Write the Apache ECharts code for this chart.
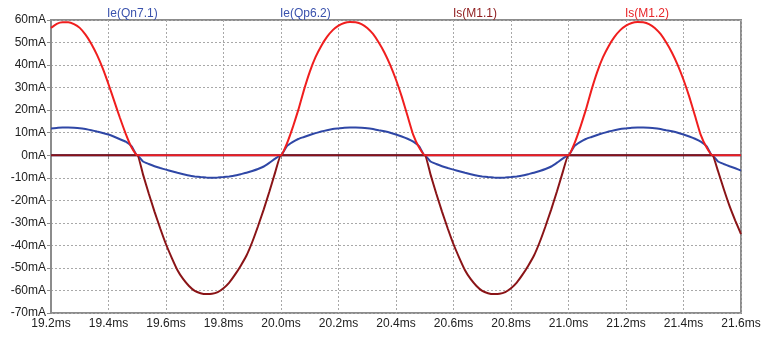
<!DOCTYPE html>
<html>
<head>
<meta charset="utf-8">
<script src="https://cdn.jsdelivr.net/npm/echarts@6/dist/echarts.min.js"></script>
<style>html,body{margin:0;padding:0;background:#fff;}#c{width:765px;height:344px;}</style>
</head>
<body>
<div id="c"></div>
<script>
// time samples (ms)
var timeMs = [
19.20,19.22,19.24,19.26,19.28,19.30,19.32,19.34,19.36,19.38,
19.40,19.42,19.44,19.46,19.48,19.50,19.52,19.54,19.56,19.58,
19.60,19.62,19.64,19.66,19.68,19.70,19.72,19.74,19.76,19.78,
19.80,19.82,19.84,19.86,19.88,19.90,19.92,19.94,19.96,19.98,
20.00,20.02,20.04,20.06,20.08,20.10,20.12,20.14,20.16,20.18,
20.20,20.22,20.24,20.26,20.28,20.30,20.32,20.34,20.36,20.38,
20.40,20.42,20.44,20.46,20.48,20.50,20.52,20.54,20.56,20.58,
20.60,20.62,20.64,20.66,20.68,20.70,20.72,20.74,20.76,20.78,
20.80,20.82,20.84,20.86,20.88,20.90,20.92,20.94,20.96,20.98,
21.00,21.02,21.04,21.06,21.08,21.10,21.12,21.14,21.16,21.18,
21.20,21.22,21.24,21.26,21.28,21.30,21.32,21.34,21.36,21.38,
21.40,21.42,21.44,21.46,21.48,21.50,21.52,21.54,21.56,21.58,
21.60
];

// Ie(Qn7.1) in mA
var ieQn71 = [
0,0,0,0,0,0,0,0,0,0,
0,0,0,0,0,0,-2.8,-3.9,-4.9,-5.7,
-6.4,-7.1,-7.8,-8.4,-9,-9.4,-9.7,-9.9,-10,-9.9,
-9.7,-9.4,-9,-8.4,-7.8,-7,-6.1,-5,-3.3,-1.5,
0,0,0,0,0,0,0,0,0,0,
0,0,0,0,0,0,0,0,0,0,
0,0,0,0,0,0,-2.8,-3.9,-4.9,-5.7,
-6.4,-7.1,-7.8,-8.4,-9,-9.4,-9.7,-9.9,-10,-9.9,
-9.7,-9.4,-9,-8.4,-7.8,-7,-6.1,-5,-3.3,-1.5,
0,0,0,0,0,0,0,0,0,0,
0,0,0,0,0,0,0,0,0,0,
0,0,0,0,0,0,-2.8,-3.9,-4.9,-5.8,
-6.8
];

// Ie(Qp6.2) in mA
var ieQp62 = [
11.9,12.1,12.3,12.3,12.2,12,11.6,11.1,10.5,9.9,
9.2,8.2,7.1,6.0,4.0,0,0,0,0,0,
0,0,0,0,0,0,0,0,0,0,
0,0,0,0,0,0,0,0,0,0,
0,4,5.8,7.2,8.1,9,9.8,10.5,11.1,11.6,
11.9,12.2,12.3,12.3,12.2,12,11.6,11.1,10.6,10,
9.2,8.3,7.3,6.0,4.0,0,0,0,0,0,
0,0,0,0,0,0,0,0,0,0,
0,0,0,0,0,0,0,0,0,0,
0,4,5.8,7.2,8.1,9,9.8,10.5,11.1,11.6,
11.9,12.2,12.3,12.3,12.2,12,11.6,11.1,10.6,10,
9.2,8.3,7.3,6.0,4.0,0,0,0,0,0,
0
];

// Is(M1.1) in mA
var isM11 = [
0,0,0,0,0,0,0,0,0,0,
0,0,0,0,0,0,-8.5,-17,-25,-32.5,
-39.5,-45.5,-51,-55,-58,-60.2,-61.2,-61.6,-61.5,-60.7,
-59,-56.5,-53,-49,-44.5,-38.5,-31.5,-24,-16,-7.5,
0,0,0,0,0,0,0,0,0,0,
0,0,0,0,0,0,0,0,0,0,
0,0,0,0,0,0,-8.5,-17,-25,-32.5,
-39.5,-45.5,-51,-55,-58,-60.2,-61.2,-61.6,-61.5,-60.7,
-59,-56.5,-53,-49,-44.5,-38.5,-31.5,-24,-16,-7.5,
0,0,0,0,0,0,0,0,0,0,
0,0,0,0,0,0,0,0,0,0,
0,0,0,0,0,0,-7,-15,-22.5,-29,
-35
];

// Is(M1.2) in mA
var isM12 = [
56.5,58.3,59,59,58.2,56.5,53.5,49.5,44.5,38.5,
31.5,24,16.5,9.5,3.5,0,0,0,0,0,
0,0,0,0,0,0,0,0,0,0,
0,0,0,0,0,0,0,0,0,0,
0,5,12,20,29,37,43.5,48.5,52.5,55.5,
57.5,58.7,59.1,59,58.2,56.5,53.8,50,45.5,40,
33.5,26,17.5,9,3.5,0,0,0,0,0,
0,0,0,0,0,0,0,0,0,0,
0,0,0,0,0,0,0,0,0,0,
0,5,12,20,29,37,43.5,48.5,52.5,55.5,
57.5,58.7,59.1,59,58.2,56.5,53.8,50,45.5,40,
33.5,26,17.5,9,3.5,0,0,0,0,0,
0
];

var seriesNames = ['Ie(Qn7.1)', 'Ie(Qp6.2)', 'Is(M1.1)', 'Is(M1.2)'];
var seriesColors = ['#2f47a6', '#2f47a6', '#8a1417', '#f01e1e'];
var labelColors = ['#3a52ad', '#3a52ad', '#8e1b1d', '#e8262a'];
var labelCenters = [137, 310, 483, 655];
var seriesValues = [ieQn71, ieQp62, isM11, isM12];

function pairs(vals) {
  return timeMs.map(function (t, i) { return [t, vals[i]]; });
}

var chart = echarts.init(document.getElementById('c'), null, { renderer: 'canvas' });
var FONT = '"Liberation Sans", Arial, sans-serif';

chart.setOption({
  animation: false,
  backgroundColor: '#ffffff',
  grid: {
    left: 51, right: 24, top: 20, bottom: 31,
    show: true, borderColor: '#8c8c8c', borderWidth: 2, backgroundColor: 'transparent'
  },
  graphic: seriesNames.map(function (n, i) {
    return {
      type: 'text', left: labelCenters[i] - 30, top: 8, z: 10,
      style: { text: n, fill: labelColors[i], font: '12px ' + FONT, width: 60, align: 'center', x: 30 }
    };
  }),
  xAxis: {
    type: 'value', min: 19.2, max: 21.6, interval: 0.2,
    axisLine: { show: true, lineStyle: { color: '#8c8c8c', width: 2 } },
    axisTick: { show: true, length: 4, lineStyle: { color: '#8c8c8c' } },
    axisLabel: {
      margin: 5, color: '#222', fontSize: 12, fontFamily: FONT,
      formatter: function (v) { return v.toFixed(1) + 'ms'; }
    },
    splitLine: { show: true, lineStyle: { color: '#a8a8a8', type: [2, 2], width: 1 } }
  },
  yAxis: {
    type: 'value', min: -70, max: 60, interval: 10,
    axisLine: { show: true, onZero: false, lineStyle: { color: '#8c8c8c', width: 2 } },
    axisTick: { show: true, length: 4, lineStyle: { color: '#8c8c8c' } },
    axisLabel: {
      margin: 5, color: '#222', fontSize: 12, fontFamily: FONT,
      formatter: function (v) { return v + 'mA'; }
    },
    splitLine: { show: true, lineStyle: { color: '#a8a8a8', type: [2, 2], width: 1 } }
  },
  series: seriesNames.map(function (n, i) {
    return {
      name: n, type: 'line', data: pairs(seriesValues[i]),
      showSymbol: false, symbol: 'none', smooth: 0.15,
      lineStyle: { color: seriesColors[i], width: 2 },
      z: 2 + i
    };
  })
});
</script>
</body>
</html>
